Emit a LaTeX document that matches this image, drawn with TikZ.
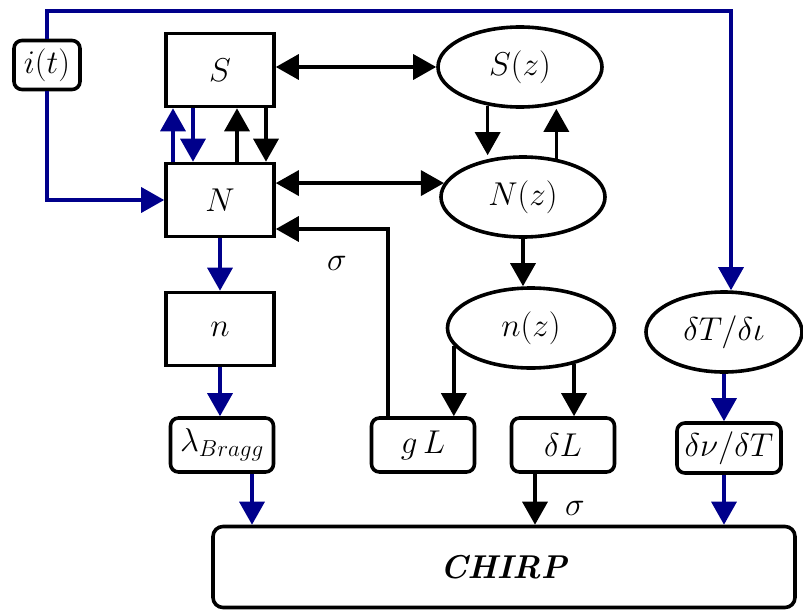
\RequirePackage{fix-cm}
\documentclass[tikz,border=0pt]{standalone}
\usetikzlibrary{positioning,arrows.meta,shapes.geometric,calc}
\definecolor{navyline}{RGB}{0,0,139}

\begin{document}
\begin{tikzpicture}[x=1pt, y=-1pt,
        every node/.style={font=\fontsize{33}{39}\selectfont},
        B/.style={rectangle, draw, line width=3.6pt, minimum width=108pt, minimum height=73pt, inner sep=0pt},
        E/.style={ellipse, draw, line width=3.6pt, minimum width=164pt, minimum height=80pt, inner sep=0pt},
        R/.style={rectangle, rounded corners=8pt, draw, line width=3.6pt, minimum width=103pt, minimum height=54pt, inner sep=0pt},
        K/.style={line width=3.4pt, -{Triangle[length=23pt,width=25pt]}},
        KK/.style={line width=3.4pt, {Triangle[length=23pt,width=25pt]}-{Triangle[length=23pt,width=25pt]}},
        U/.style={K, color=navyline}
    ]
    \useasboundingbox (0,0) rectangle (803,610);

    \node[R, minimum width=66pt, minimum height=49pt] (it) at (47,65) {$i(t)$};
    \node[B]      (sb)  at (220,70)  {$S$};
    \node[B]      (nb)  at (220,200) {$N$};
    \node[B]      (nn)  at (220,329) {$n$};
    \node[E]      (sz)  at (520,67)  {$S(z)$};
    \node[E]      (nz)  at (523,197) {$N(z)$};
    \node[E, minimum width=167pt] (nnz) at (531,328) {$n(z)$};
    \node[E, minimum width=156pt] (dt)  at (724,332) {$\delta T/\delta\iota$};
    \node[R]      (lb)  at (222,445) {$\lambda_{Bragg}$};
    \node[R]      (gl)  at (423,445) {$g\,L$};
    \node[R]      (dl)  at (563,445) {$\delta L$};
    \node[R, minimum width=104pt, minimum height=50pt] (dv) at (729,448) {$\delta\nu/\delta T$};
    \node[R, rounded corners=10pt, minimum width=582pt, minimum height=81pt] (ch) at (504,567) {\textbf{\textit{CHIRP}}};
    \node (sig1) at (337,263) {$\sigma$};
    \node (sig2) at (575,508) {$\sigma$};

    \coordinate (tr)  at (731,11);
    \coordinate (lbo) at ($(lb.south)+(30,0)$);
    \coordinate (dlo) at ($(dl.south)+(-28,0)$);
    \coordinate (dvo) at ($(dv.south)+(-5,0)$);

    \draw[U] (it.north) |- (tr) -- (tr |- dt.north);
    \draw[U] (it.south) |- (nb.west);
    \draw[U] ($(nb.north)+(-47,0)$) -- ($(sb.south)+(-47,0)$);
    \draw[U] ($(sb.south)+(-27,0)$) -- ($(nb.north)+(-27,0)$);
    \draw[K] ($(nb.north)+(17,0)$) -- ($(sb.south)+(17,0)$);
    \draw[K] ($(sb.south)+(46,0)$) -- ($(nb.north)+(46,0)$);
    \draw[KK] (sb.east |- sz.west) -- (sz.west);
    \draw[KK] (nb.east |- nz.170) -- (nz.170);
    \draw[K] (sz.230) -- (sz.230 |- nz.north);
    \draw[K] (nz.49) -- (nz.49 |- sz.south);
    \draw[K] (nz.south) -- (nz.south |- nnz.north);
    \draw[K] (nnz.193) -- (nnz.193 |- gl.north);
    \draw[K] (nnz.-40) -- (nnz.-40 |- dl.north);
    \draw[K] ($(gl.north)+(-35,0)$) |- ($(nb.east)+(0,29)$);
    \draw[U] (nb.south) -- (nn.north);
    \draw[U] (nn.south) -- (nn.south |- lb.north);
    \draw[U] (lbo) -- (lbo |- ch.north);
    \draw[K] (dlo) -- (dlo |- ch.north);
    \draw[U] (dt.south) -- (dt.south |- dv.north);
    \draw[U] (dvo) -- (dvo |- ch.north);
\end{tikzpicture}
\end{document}
